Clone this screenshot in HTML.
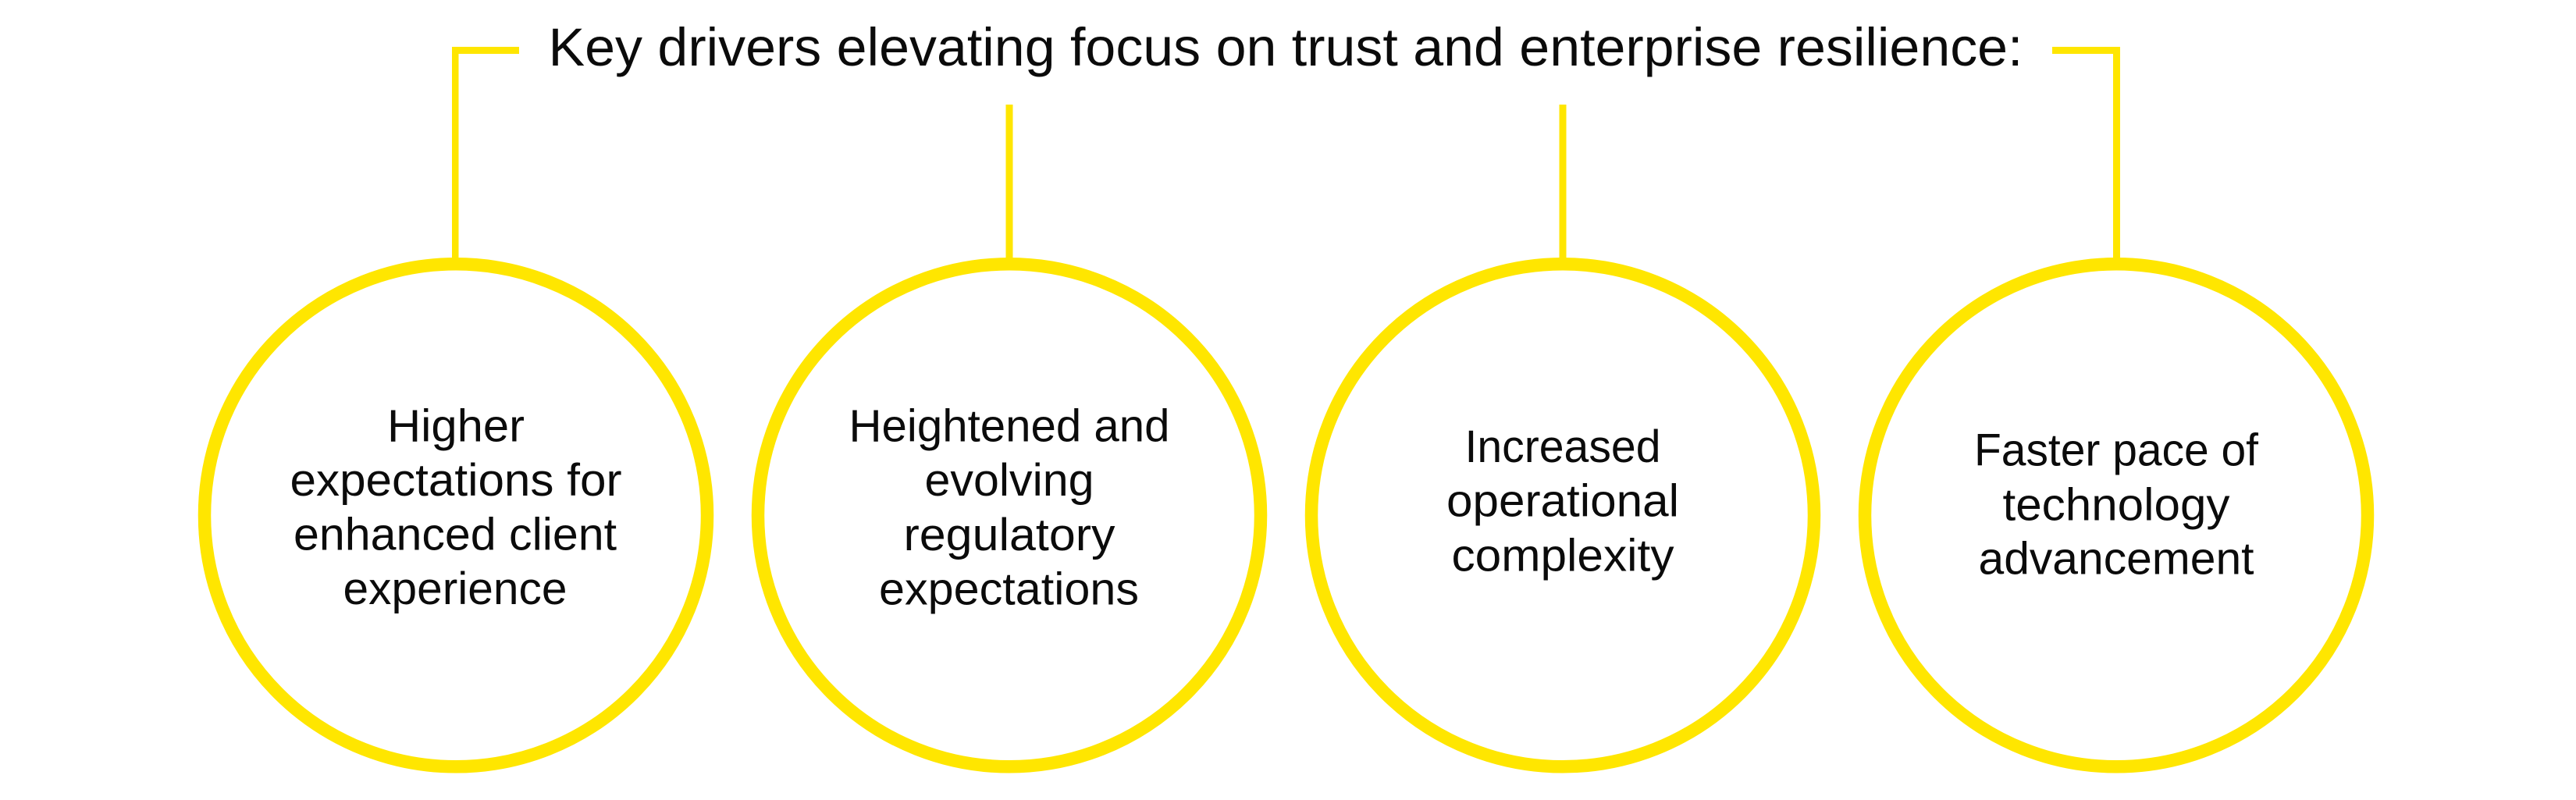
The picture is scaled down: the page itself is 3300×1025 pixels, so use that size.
<!DOCTYPE html>
<html lang="en">
<head>
<meta charset="utf-8">
<title>Key drivers elevating focus on trust and enterprise resilience</title>
<style>
html,body{margin:0;padding:0;background:#fff;width:3300px;height:1025px;overflow:hidden}
svg{display:block}
text{font-family:"Liberation Sans",sans-serif;fill:#0b0b0b}
.c{font-size:58px;text-anchor:middle}
.t{font-size:69px}
</style>
</head>
<body>
<svg xmlns="http://www.w3.org/2000/svg" width="3300" height="1025" viewBox="0 0 3300 1025">
<rect width="3300" height="1025" fill="#fff"/>
<g fill="none" stroke="#ffe600" stroke-width="16.5">
  <circle cx="584" cy="660.3" r="322"/>
  <circle cx="1293" cy="660.3" r="322"/>
  <circle cx="2002" cy="660.3" r="322"/>
  <circle cx="2711" cy="660.3" r="322"/>
</g>
<g fill="#ffe600">
  <rect x="579" y="60" width="86" height="9"/>
  <rect x="579" y="60" width="8.5" height="275"/>
  <rect x="2629" y="60" width="87" height="9"/>
  <rect x="2707" y="60" width="9" height="275"/>
  <rect x="1288.5" y="134" width="9" height="200"/>
  <rect x="1997.5" y="134" width="9" height="200"/>
</g>
<text class="t" x="702.5" y="84" textLength="1889" lengthAdjust="spacingAndGlyphs">Key drivers elevating focus on trust and enterprise resilience:</text>

<text class="c" x="584" y="565.5" textLength="176" lengthAdjust="spacingAndGlyphs">Higher</text>
<text class="c" x="584" y="635" textLength="425" lengthAdjust="spacingAndGlyphs">expectations for</text>
<text class="c" x="583" y="704.5" textLength="414" lengthAdjust="spacingAndGlyphs">enhanced client</text>
<text class="c" x="583" y="774" textLength="287" lengthAdjust="spacingAndGlyphs">experience</text>

<text class="c" x="1293" y="565.5" textLength="411" lengthAdjust="spacingAndGlyphs">Heightened and</text>
<text class="c" x="1293" y="635" textLength="217" lengthAdjust="spacingAndGlyphs">evolving</text>
<text class="c" x="1293" y="705" textLength="271" lengthAdjust="spacingAndGlyphs">regulatory</text>
<text class="c" x="1292.5" y="774.3" textLength="333" lengthAdjust="spacingAndGlyphs">expectations</text>

<text class="c" x="2002" y="592" textLength="251" lengthAdjust="spacingAndGlyphs">Increased</text>
<text class="c" x="2002" y="661.5" textLength="298" lengthAdjust="spacingAndGlyphs">operational</text>
<text class="c" x="2002" y="731.4" textLength="285" lengthAdjust="spacingAndGlyphs">complexity</text>

<text class="c" x="2711" y="596.4" textLength="364" lengthAdjust="spacingAndGlyphs">Faster pace of</text>
<text class="c" x="2711" y="666.3" textLength="291" lengthAdjust="spacingAndGlyphs">technology</text>
<text class="c" x="2711" y="735.5" textLength="353" lengthAdjust="spacingAndGlyphs">advancement</text>
</svg>
</body>
</html>
